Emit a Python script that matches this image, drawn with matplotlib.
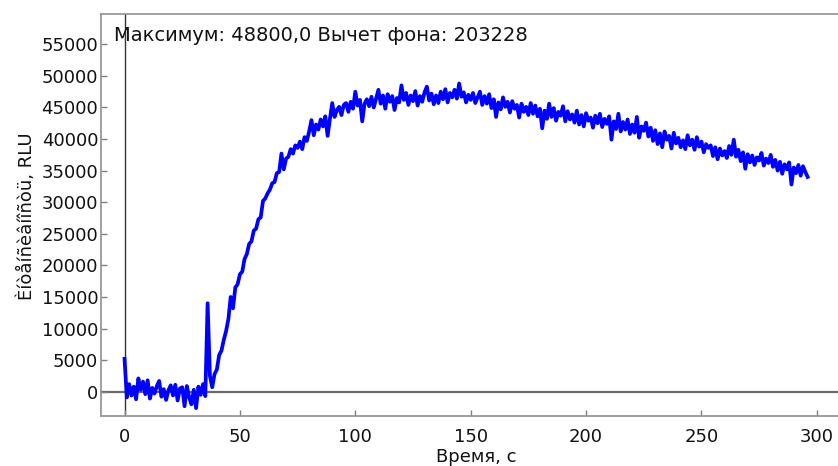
"""Luminescence kinetics trace (intensity vs time) redrawn from a screenshot."""

from __future__ import annotations

import matplotlib

matplotlib.use("Agg")
import matplotlib.pyplot as plt  # noqa: E402

OUTPUT = "out.png"

# sample times, one reading per second
time_s = list(range(0, 297))

# intensity readings, RLU (10 per row)
intensity_rlu = [
    5200, -900, 1200, -600, 800, -1200, 2100, 300, 1600, -400,
    1800, -1100, 600, -300, 900, 1700, -800, 400, -1300, 200,
    1000, -600, 1100, -1400, 500, 700, -2300, 900, -900, -2000,
    300, -2600, 800, -500, 1200, -700, 14000, 2500, 700, 2800,
    3500, 5800, 6500, 8200, 9600, 11500, 15000, 13200, 16500, 17000,
    18600, 19000, 21000, 21800, 23400, 23800, 25500, 25800, 27300, 27600,
    30200, 30600, 31400, 32000, 33000, 33200, 34600, 34800, 37700, 35200,
    36900, 37200, 38400, 37700, 39000, 38600, 39600, 38400, 40300, 39700,
    41200, 43000, 40600, 42300, 41500, 43100, 42000, 43600, 40500, 43200,
    45700, 43500, 44600, 45100, 43800, 45400, 45700, 44300, 45900, 44800,
    47500, 45300, 46200, 42800, 45600, 46300, 45200, 46700, 45000, 46400,
    47800, 45600, 46900, 44800, 47100, 45900, 46800, 44600, 46500, 45800,
    48500, 46200, 47300, 45400, 46900, 46000, 47600, 45300, 46800, 45900,
    47400, 48300, 46100, 47200, 45500, 46900, 45700, 47500, 46300, 47900,
    45800, 47300, 46600, 47800, 46400, 48800, 46700, 47400, 45800, 47000,
    46200, 47300, 45700, 46600, 47500, 45400, 46800, 45600, 47100, 44900,
    46300, 43500, 45800, 44700, 46600, 45100, 45900, 44200, 46000, 44800,
    45400, 43400, 45600, 44300, 45100, 43800, 45700, 44000, 45300, 43600,
    44800, 41700, 44500, 43200, 45600, 43500, 44900, 42900, 44300, 43700,
    45200, 42800, 44400, 43100, 43900, 42600, 44500, 42300, 43800, 42000,
    44100, 42900, 43400, 41800, 43700, 42500, 44000, 41900, 43200, 42400,
    43600, 39900, 42800, 41600, 44000, 41200, 42700, 41500, 43100, 40800,
    42300, 41000, 43500, 40200, 42000, 41300, 42600, 40400, 41800, 39700,
    41400, 39200, 40900, 38700, 41200, 39900, 40500, 38500, 41000, 39300,
    40200, 38700, 39800, 38400, 40600, 39000, 39900, 38300, 40300, 38800,
    39600, 37900, 39200, 38600, 39000, 37300, 38700, 36800, 38500, 37400,
    38100, 37000, 38900, 37500, 39900, 37200, 38300, 36500, 37900, 35300,
    37600, 36300, 37400, 35900, 37100, 36600, 37800, 35800, 36900, 36200,
    37500, 35600, 36700, 35000, 36400, 34500, 36000, 35200, 36300, 32800,
    35500, 34600, 35900, 34200, 35700, 34800, 34000,
]

x_ticks = [0, 50, 100, 150, 200, 250, 300]
y_ticks = [0, 5000, 10000, 15000, 20000, 25000, 30000, 35000, 40000, 45000, 50000, 55000]

header_text = "Максимум: 48800,0 Вычет фона: 203228"
x_label = "Время, с"
y_label = "Èíòåíñèâíîñòü, RLU"

W, H = 838, 466


def _setup_style() -> None:
    plt.rcParams.update(
        {
            "font.family": ["DejaVu Sans"],
            "font.size": 13,
            "xtick.labelsize": 13,
            "ytick.labelsize": 13,
        }
    )


def plot_trace() -> None:
    _setup_style()
    fig = plt.figure(figsize=(W / 100, H / 100), dpi=100)
    # frame runs past the right edge of the image, as in the original window
    ax = fig.add_axes([101 / W, 50 / H, 750 / W, 402 / H])

    ax.axhline(0, color="#6a6a6a", linewidth=1.6, zorder=1)
    ax.axvline(0, color="#333333", linewidth=1.0, zorder=1)
    ax.plot(time_s, intensity_rlu, color="#0000ff", linewidth=2.7, zorder=3)

    ax.set_xlim(-10.2, 314.8)
    ax.set_ylim(-3850, 59800)
    ax.set_xticks(x_ticks)
    ax.set_yticks(y_ticks)
    ax.tick_params(direction="in", length=4, width=1, color="#808080", labelcolor="#111111")
    ax.tick_params(axis="x", pad=9)
    ax.tick_params(axis="y", pad=2)
    for spine in ax.spines.values():
        spine.set_color("#909090")
        spine.set_linewidth(1.2)

    fig.text(114 / W, 1 - 41 / H, header_text, ha="left", va="baseline",
             fontsize=14, color="#111111")
    fig.text(476 / W, 1 - 457 / H, x_label, ha="center", va="center",
             fontsize=13, color="#111111")
    fig.text(27 / W, 1 - 216 / H, y_label, ha="center", va="center",
             rotation=90, fontsize=13, color="#111111")

    fig.savefig(OUTPUT, dpi=100)
    plt.close(fig)


if __name__ == "__main__":
    plot_trace()
